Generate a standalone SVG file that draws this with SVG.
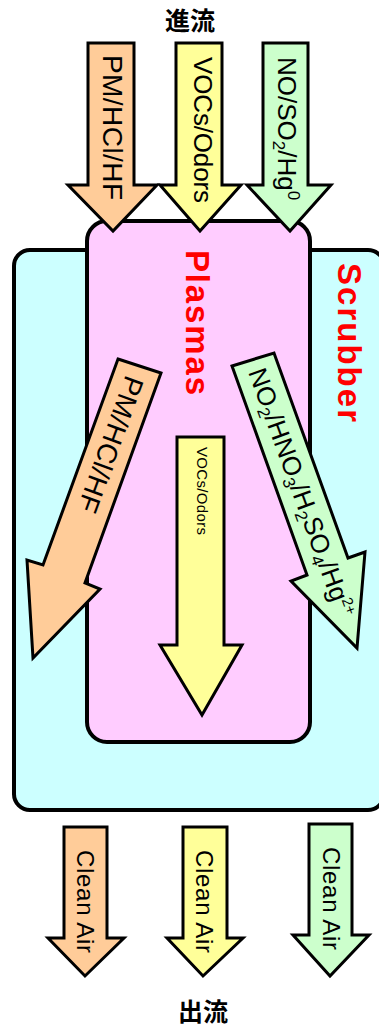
<svg xmlns="http://www.w3.org/2000/svg" width="379" height="1029" viewBox="0 0 379 1029">
<style>
.box{stroke:#000;stroke-width:4}
.ar{stroke:#000;stroke-width:3;stroke-linejoin:miter}
.o{fill:#FFCC99}.y{fill:#FFFF99}.g{fill:#CCFFCC}
.lbl{font-family:"Liberation Sans",Arial,sans-serif;fill:#000}
.red{font-family:"Liberation Sans",Arial,sans-serif;font-weight:bold;fill:#FF0000}
.cjk{font-family:"Noto Sans CJK JP","Noto Sans CJK SC",sans-serif;font-weight:bold;fill:#000;text-anchor:middle}
</style>
<rect width="379" height="1029" fill="#fff"/>
<g id="title-in"><text class="cjk" x="190" y="30" font-size="25">進流</text></g>
<g id="title-out"><text class="cjk" x="203" y="1021" font-size="25">出流</text></g>
<g id="scrubber">
<rect class="box" x="14" y="250" width="370" height="560" rx="16" fill="#CCFFFF"/>
<text class="red" x="338" y="263" font-size="33" textLength="159" transform="rotate(90 338 263)">Scrubber</text>
</g>
<g id="plasmas">
<rect class="box" x="87" y="221" width="223" height="521" rx="20" fill="#FFCCFF"/>
<text class="red" x="186" y="250" font-size="33" textLength="145" transform="rotate(90 186 250)">Plasmas</text>
</g>
<g id="connectors">
<g id="in-pm">
<polygon class="ar o" points="88,43 134,43 134,185 157,185 113,231 68,185 88,185"/>
<text class="lbl" x="103" y="55" font-size="28" textLength="145" transform="rotate(90 103 55)">PM/HCl/HF</text>
</g>
<g id="in-voc">
<polygon class="ar y" points="176,43 222,43 222,185 241,185 200,231 160,185 176,185"/>
<text class="lbl" x="194" y="57" font-size="26" textLength="146" transform="rotate(90 194 57)">VOCs/Odors</text>
</g>
<g id="in-nox">
<polygon class="ar g" points="263,43 308,43 308,185 331,185 290,231 247,185 263,185"/>
<text class="lbl" x="278" y="57" font-size="26" transform="rotate(90 278 57)">NO/SO<tspan font-size="17" dy="5">2</tspan><tspan dy="-5">/Hg</tspan><tspan font-size="17" dy="-10">0</tspan></text>
</g>
<g id="pm-out">
<polygon class="ar o" points="118,359 161,373 85,583 100,589 33,658 27,560 43,565"/>
<text class="lbl" x="126" y="374" font-size="28" textLength="143" transform="rotate(110 126 374)">PM/HCl/HF</text>
</g>
<g id="voc-out">
<polygon class="ar y" points="177,437 224,437 224,645 242,645 202,715 160,645 177,645"/>
<text class="lbl" x="197" y="447" font-size="15" textLength="88" transform="rotate(90 197 447)">VOCs/Odors</text>
</g>
<g id="nox-out">
<polygon class="ar g" points="232,366 274,353 348,558 365,552 357,648 291,581 307,575"/>
<text class="lbl" x="248" y="372" font-size="26" transform="rotate(70 248 372)">NO<tspan font-size="17" dy="5">2</tspan><tspan dy="-5">/HNO</tspan><tspan font-size="17" dy="5">3</tspan><tspan dy="-5">/H</tspan><tspan font-size="17" dy="5">2</tspan><tspan dy="-5">SO</tspan><tspan font-size="17" dy="5">4</tspan><tspan dy="-5">/Hg</tspan><tspan font-size="15" dy="-10">2+</tspan></text>
</g>
<g id="out-1">
<polygon class="ar o" points="64,827 107,827 107,938 124,938 85,976 48,938 64,938"/>
<text class="lbl" x="77" y="850" font-size="24" textLength="103" transform="rotate(90 77 850)">Clean Air</text>
</g>
<g id="out-2">
<polygon class="ar y" points="183,827 227,827 227,938 243,938 203,976 167,938 183,938"/>
<text class="lbl" x="196" y="850" font-size="24" textLength="103" transform="rotate(90 196 850)">Clean Air</text>
</g>
<g id="out-3">
<polygon class="ar g" points="309,824 352,824 352,935 369,935 330,976 293,935 309,935"/>
<text class="lbl" x="323" y="847" font-size="24" textLength="103" transform="rotate(90 323 847)">Clean Air</text>
</g>
</g>
</svg>
